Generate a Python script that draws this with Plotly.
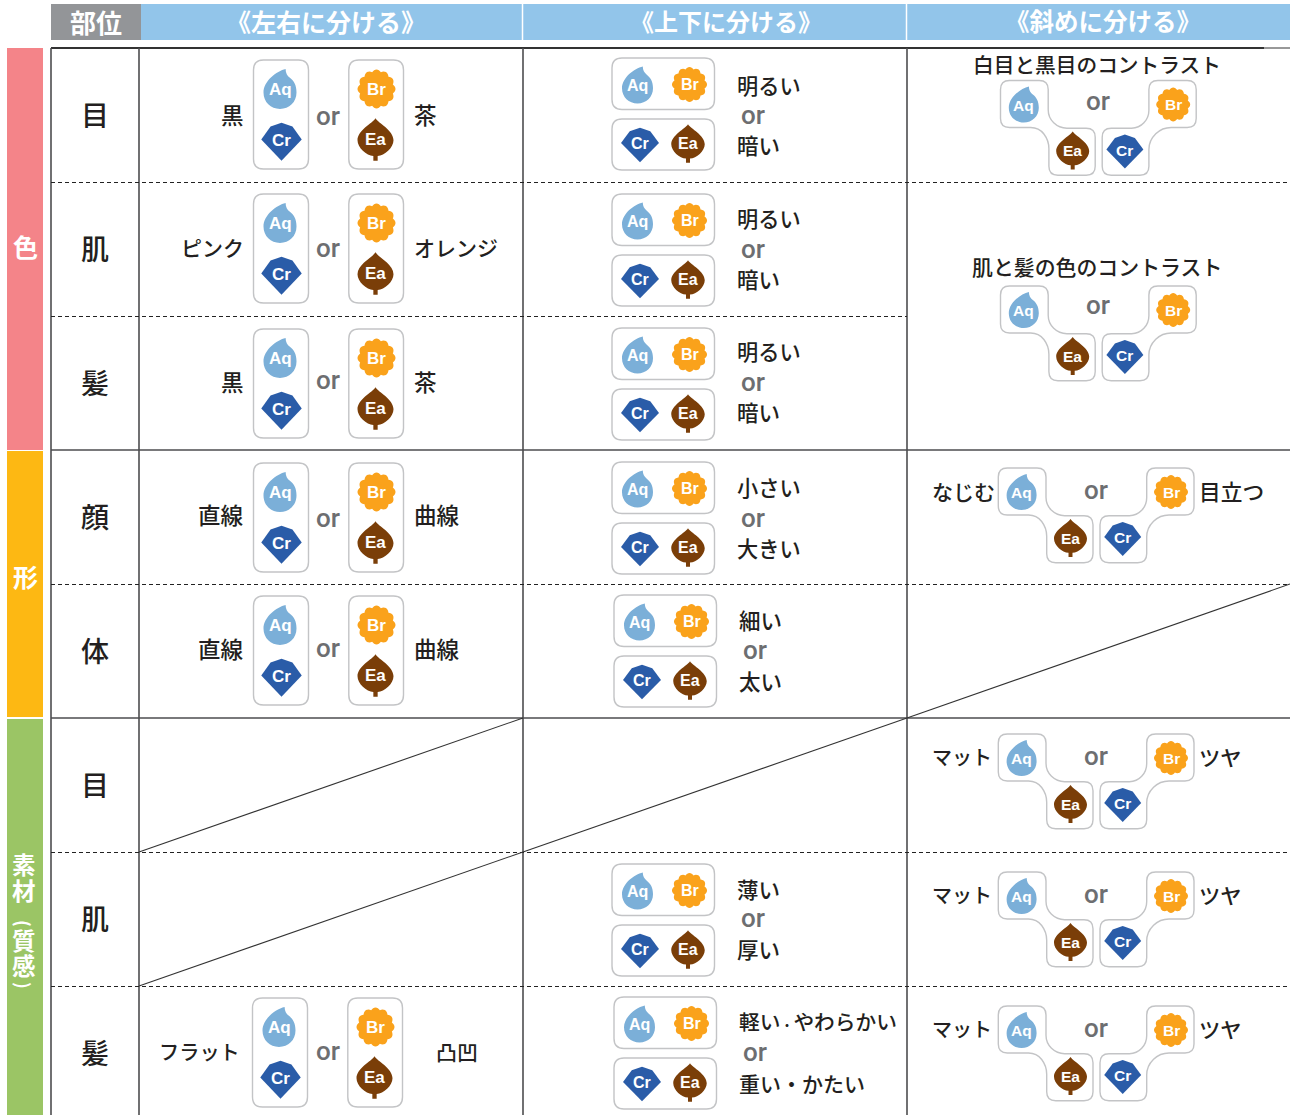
import math
import plotly.graph_objects as go

# ---------- content ----------
HEADERS = ["部位", "《左右に分ける》", "《上下に分ける》", "《斜めに分ける》"]
SIDE_GROUPS = ["色", "形"]
SIDE_MATERIAL = ["素", "材", "(", "質", "感", ")"]
ROW_PARTS = ["目", "肌", "髪", "顔", "体", "目", "肌", "髪"]
LR_LEFT = ["黒", "ピンク", "黒", "直線", "直線", "フラット"]
LR_RIGHT = ["茶", "オレンジ", "茶", "曲線", "曲線", "凸凹"]
TB_TOP = ["明るい", "明るい", "明るい", "小さい", "細い", "薄い", "軽い・やわらかい"]
TB_BOTTOM = ["暗い", "暗い", "暗い", "大きい", "太い", "厚い", "重い・かたい"]
DIAG_TITLES = ["白目と黒目のコントラスト", "肌と髪の色のコントラスト"]
DIAG_LEFT = ["なじむ", "マット", "マット", "マット"]
DIAG_RIGHT = ["目立つ", "ツヤ", "ツヤ", "ツヤ"]
OR_WORD = "or"

# ---------- layout geometry (pixels of the 1290x1115 page) ----------
W, H = 1290, 1115
ROW_EDGES = [48, 182, 316, 450, 584, 718, 852, 986, 1120]
COL_EDGES = [51, 139, 523, 907, 1290]
LR_ORIGINS = [(254, 60), (254, 194), (254, 329), (254, 463), (254, 596), (253, 998)]
LR_TEXT_DY = [54, 53, 52, 51, 52, 53]
LR_OR_DY = [56, 54, 51, 55, 52, 53]
TB_ORIGINS = [(612, 58), (612, 194), (612, 328), (612, 462), (614, 595), (612, 864), (614, 997)]
TB_TEXT_DY = [26, 23, 22, 24, 24, 24, 24]
TB_GAP = [60, 61, 61, 61, 61, 60, 62]
TB_OR_DY = [57, 55, 54, 56, 55, 54, 55]
DIAG_ORIGINS = [(1000.5, 80.5), (1000.5, 286), (998.3, 468), (998.3, 734), (998.3, 872), (998.3, 1006)]
DIAG_OR_DY = [20, 18.5, 22, 22, 22, 22]
DIAG_OR_DX = [97, 97, 98, 98, 98, 98]

JP = "Noto Sans CJK JP"
INK = "#231f20"
GREY = "#6d6e71"
BOX = "#c3c4c6"
LINE = "#4d4d4f"
COLORS = {"Aq": "#7bafd8", "Br": "#faa21b", "Cr": "#2a5ca8", "Ea": "#7a3e08"}
TEXT_SIZE = {"ピンク": 21, "オレンジ": 21, "フラット": 20.2, "凸凹": 21, "明るい": 21.2, "暗い": 21.5,
             "小さい": 21.2, "大きい": 21.2, "細い": 21.5, "太い": 21.5, "薄い": 21.5, "厚い": 21.5,
             "軽い・やわらかい": 20.7, "重い・かたい": 21, "なじむ": 21, "目立つ": 21.7, "マット": 20, "ツヤ": 21.3}

shapes, notes = [], []


def text(x, y, s, size, color=INK, anchor="center", family=JP, weight=400, angle=0):
    notes.append(dict(x=x, y=y, xref="x", yref="y", text=s, showarrow=False,
                      xanchor=anchor, yanchor="middle", textangle=angle,
                      font=dict(family=family, size=size, color=color, weight=weight),
                      borderpad=0, borderwidth=0))


def rect(x0, y0, x1, y1, fill):
    shapes.append(dict(type="rect", x0=x0, y0=y0, x1=x1, y1=y1, fillcolor=fill,
                       line=dict(width=0), layer="below"))


def seg(x0, y0, x1, y1, width=1.3, color=LINE, dash="solid"):
    shapes.append(dict(type="line", x0=x0, y0=y0, x1=x1, y1=y1,
                       line=dict(width=width, color=color, dash=dash), layer="below"))


def rounded(pts, r, fill="white", stroke=BOX, width=1.4):
    n = len(pts)
    d = ""
    for i in range(n):
        px, py = pts[i - 1]
        cx, cy = pts[i]
        nx, ny = pts[(i + 1) % n]
        l1 = math.hypot(cx - px, cy - py)
        l2 = math.hypot(nx - cx, ny - cy)
        rr = min(r, l1 / 2, l2 / 2)
        ax, ay = cx + (px - cx) * rr / l1, cy + (py - cy) * rr / l1
        bx, by = cx + (nx - cx) * rr / l2, cy + (ny - cy) * rr / l2
        d += ("M" if i == 0 else "L") + f"{ax:.2f},{ay:.2f} Q{cx:.2f},{cy:.2f} {bx:.2f},{by:.2f} "
    shapes.append(dict(type="path", path=d + "Z", fillcolor=fill,
                       line=dict(color=stroke, width=width), layer="above"))


def box(x0, y0, x1, y1, r=10):
    rounded([(x0, y0), (x1, y0), (x1, y1), (x0, y1)], r)


UNIT = {
    "Aq": [("M", .17, -.5), ("C", -.1, -.45, -.5, -.2, -.5, .09), ("C", -.5, .33, -.28, .5, 0, .5),
           ("C", .28, .5, .5, .33, .5, .09), ("C", .5, -.1, .42, -.2, .3, -.28),
           ("C", .22, -.33, .17, -.4, .17, -.5)],
    "Cr": [("M", 0, -.5), ("L", .27, -.4), ("L", .5, -.06), ("L", 0, .5), ("L", -.5, -.06), ("L", -.27, -.4)],
    "Ea": [("M", 0, -.5), ("C", .08, -.38, .5, -.22, .5, .02), ("C", .5, .2, .25, .38, .06, .39),
           ("L", .06, .5), ("L", -.06, .5), ("L", -.06, .39), ("C", -.25, .38, -.5, .2, -.5, .02),
           ("C", -.5, -.22, -.08, -.38, 0, -.5)],
}


def icon(name, cx, cy, w, h, size):
    if name == "Br":
        pts = []
        for k in range(96):
            t = 2 * math.pi * k / 96
            rad = .445 + .055 * abs(math.cos(6 * t))
            pts.append((cx + w * rad * math.sin(t), cy - h * rad * math.cos(t)))
        d = "M" + " L".join(f"{x:.2f},{y:.2f}" for x, y in pts) + " Z"
    else:
        d = ""
        for cmd in UNIT[name]:
            nums = cmd[1:]
            xy = [f"{cx + w * nums[i]:.2f},{cy + h * nums[i + 1]:.2f}" for i in range(0, len(nums), 2)]
            d += cmd[0] + " ".join(xy) + " "
        d += "Z"
    shapes.append(dict(type="path", path=d, fillcolor=COLORS[name], line=dict(width=0), layer="above"))
    off = {"Aq": .02, "Br": 0, "Cr": -.03, "Ea": .0}[name]
    text(cx, cy + h * off, name, size, "white", family="Liberation Sans", weight=700)


def label(x, y, s, anchor):
    shown = s
    if s == "軽い・やわらかい":
        shown = s.replace("・", '<span style="font-size:13px">・</span>')
    text(x, y, shown, TEXT_SIZE.get(s, 22.5), INK, anchor=anchor, weight=500)


# ---------- header and side bands ----------
rect(51, 4, 141, 40, "#939598")
rect(141, 4, W, 40, "#92c5ea")
seg(522.5, 4, 522.5, 40, 1.5, "white")
seg(906.5, 4, 906.5, 40, 1.5, "white")
text(96, 21, HEADERS[0], 26, "white", weight=700)
for h, cx, sz in zip(HEADERS[1:], [326, 726, 1102.5], [25, 24, 24.5]):
    text(cx, 20.5, h, sz, "white", weight=700)

rect(7, 48, 43, 450, "#f48489")
rect(7, 451, 43, 717, "#fdb813")
rect(7, 719, 43, H, "#9bc565")
text(25, 246, SIDE_GROUPS[0], 25, "white", weight=700)
text(25, 576, SIDE_GROUPS[1], 25, "white", weight=700)
for ch, y, ang, sz in zip(SIDE_MATERIAL, [864, 890, 923, 940, 965, 985],
                          [0, 0, 90, 0, 0, 90], [23.5, 23.5, 18, 23.5, 23.5, 18]):
    text(24, y, ch, sz, "white", weight=700, angle=ang)

# ---------- grid ----------
seg(COL_EDGES[0], 48, 1264, 48, 2, "#333333")
seg(1264, 48, W, 48, 1, "#333333")
for x in COL_EDGES[:4]:
    seg(x, 48, x, H, 1.6)
for i in [3, 5]:
    seg(COL_EDGES[0], ROW_EDGES[i], W, ROW_EDGES[i], 1.3)
for i in [1, 2, 4, 6, 7]:
    x1 = COL_EDGES[3] if i == 2 else W
    seg(COL_EDGES[0], ROW_EDGES[i] + .5, x1, ROW_EDGES[i] + .5, 1.2, "#222222", "4px,3px")
seg(COL_EDGES[1], ROW_EDGES[6], COL_EDGES[2], ROW_EDGES[5], 1.1, "#333333")
seg(COL_EDGES[1], ROW_EDGES[7], COL_EDGES[2], ROW_EDGES[6], 1.1, "#333333")
seg(COL_EDGES[2], ROW_EDGES[6], COL_EDGES[3], ROW_EDGES[5], 1.1, "#333333")
seg(COL_EDGES[3], ROW_EDGES[5], COL_EDGES[4], ROW_EDGES[4], 1.1, "#333333")

# ---------- row labels ----------
for i, part in enumerate(ROW_PARTS):
    cy = (ROW_EDGES[i] + ROW_EDGES[i + 1]) / 2
    text(94.5, cy - 1.5, part, 28, INK, weight=500)

# ---------- left / right groups ----------
for i, (x0, y0) in enumerate(LR_ORIGINS):
    box(x0 - .5, y0, x0 + 54.5, y0 + 109)
    box(x0 + 94.8, y0, x0 + 149.5, y0 + 109)
    icon("Aq", x0 + 26, y0 + 29, 33, 40, 17)
    icon("Cr", x0 + 27.5, y0 + 81.7, 40.5, 38, 17)
    icon("Br", x0 + 122.5, y0 + 29, 38, 39, 17)
    icon("Ea", x0 + 121.5, y0 + 79.5, 36, 42.4, 17)
    text(328, y0 + LR_OR_DY[i], OR_WORD, 26, GREY, family="Roboto", weight=500)
    left_edge = x0 - 10 if i < 5 else x0 - 13
    right_edge = x0 + 159.5 if i < 5 else x0 + 183
    label(left_edge, y0 + LR_TEXT_DY[i], LR_LEFT[i], "right")
    label(right_edge, y0 + LR_TEXT_DY[i], LR_RIGHT[i], "left")

# ---------- top / bottom groups ----------
for i, (x0, y0) in enumerate(TB_ORIGINS):
    box(x0, y0, x0 + 102.5, y0 + 51.5)
    box(x0, y0 + 61, x0 + 102.5, y0 + 112)
    icon("Aq", x0 + 25.5, y0 + 27, 31, 37, 16)
    icon("Br", x0 + 77.5, y0 + 26.5, 35, 35, 16)
    icon("Cr", x0 + 28, y0 + 87, 38, 34.4, 16)
    icon("Ea", x0 + 76, y0 + 85.5, 33.5, 38.7, 16)
    label(x0 + 125, y0 + TB_TEXT_DY[i], TB_TOP[i], "left")
    text(x0 + 141, y0 + TB_OR_DY[i], OR_WORD, 26, GREY, family="Roboto", weight=500)
    label(x0 + 125, y0 + TB_TEXT_DY[i] + TB_GAP[i], TB_BOTTOM[i], "left")


# ---------- diagonal groups ----------
def diag(x0, y0, or_dx, or_dy):
    rounded([(x0 + a, y0 + b) for a, b in [(0, 0), (47.7, 0), (47.7, 37), (58.7, 47.7), (94.7, 47.7),
                                           (94.7, 94.7), (48.4, 94.7), (48.4, 60), (38.4, 47), (0, 47)]], 9)
    rounded([(x0 + a, y0 + b) for a, b in [(148.4, 0), (195.7, 0), (195.7, 47), (161.7, 47), (148.4, 60),
                                           (148.4, 94.7), (101.7, 94.7), (101.7, 47.7), (138.4, 47.7),
                                           (148.4, 37)]], 9)
    icon("Aq", x0 + 23.3, y0 + 24, 30, 36, 15.5)
    icon("Ea", x0 + 72.2, y0 + 70, 33, 38, 15.5)
    icon("Cr", x0 + 124.4, y0 + 71, 37, 34, 15.5)
    icon("Br", x0 + 172.7, y0 + 24, 34, 34, 15.5)
    text(x0 + or_dx, y0 + or_dy, OR_WORD, 26, GREY, family="Roboto", weight=500)


for (x0, y0), dx, dy in zip(DIAG_ORIGINS, DIAG_OR_DX, DIAG_OR_DY):
    diag(x0, y0, dx, dy)
text(1097, 63.5, DIAG_TITLES[0], 20.7, weight=500)
text(1097, 266, DIAG_TITLES[1], 20.9, weight=500)
for j, ((x0, y0), a, b) in enumerate(zip(DIAG_ORIGINS[2:], DIAG_LEFT, DIAG_RIGHT)):
    label(x0 - (3 if j == 0 else 6), y0 + 22.5, a, "right")
    label(x0 + 200.5, y0 + 22.5, b, "left")

fig = go.Figure()
fig.update_layout(
    width=W, height=H, margin=dict(l=0, r=0, t=0, b=0),
    paper_bgcolor="white", plot_bgcolor="white", showlegend=False,
    xaxis=dict(range=[0, W], visible=False, fixedrange=True),
    yaxis=dict(range=[H, 0], visible=False, fixedrange=True),
    shapes=shapes, annotations=notes,
)
fig.write_html("out.html", config=dict(displayModeBar=False),
               post_script="document.body.style.margin='0';document.body.style.overflow='hidden';")
